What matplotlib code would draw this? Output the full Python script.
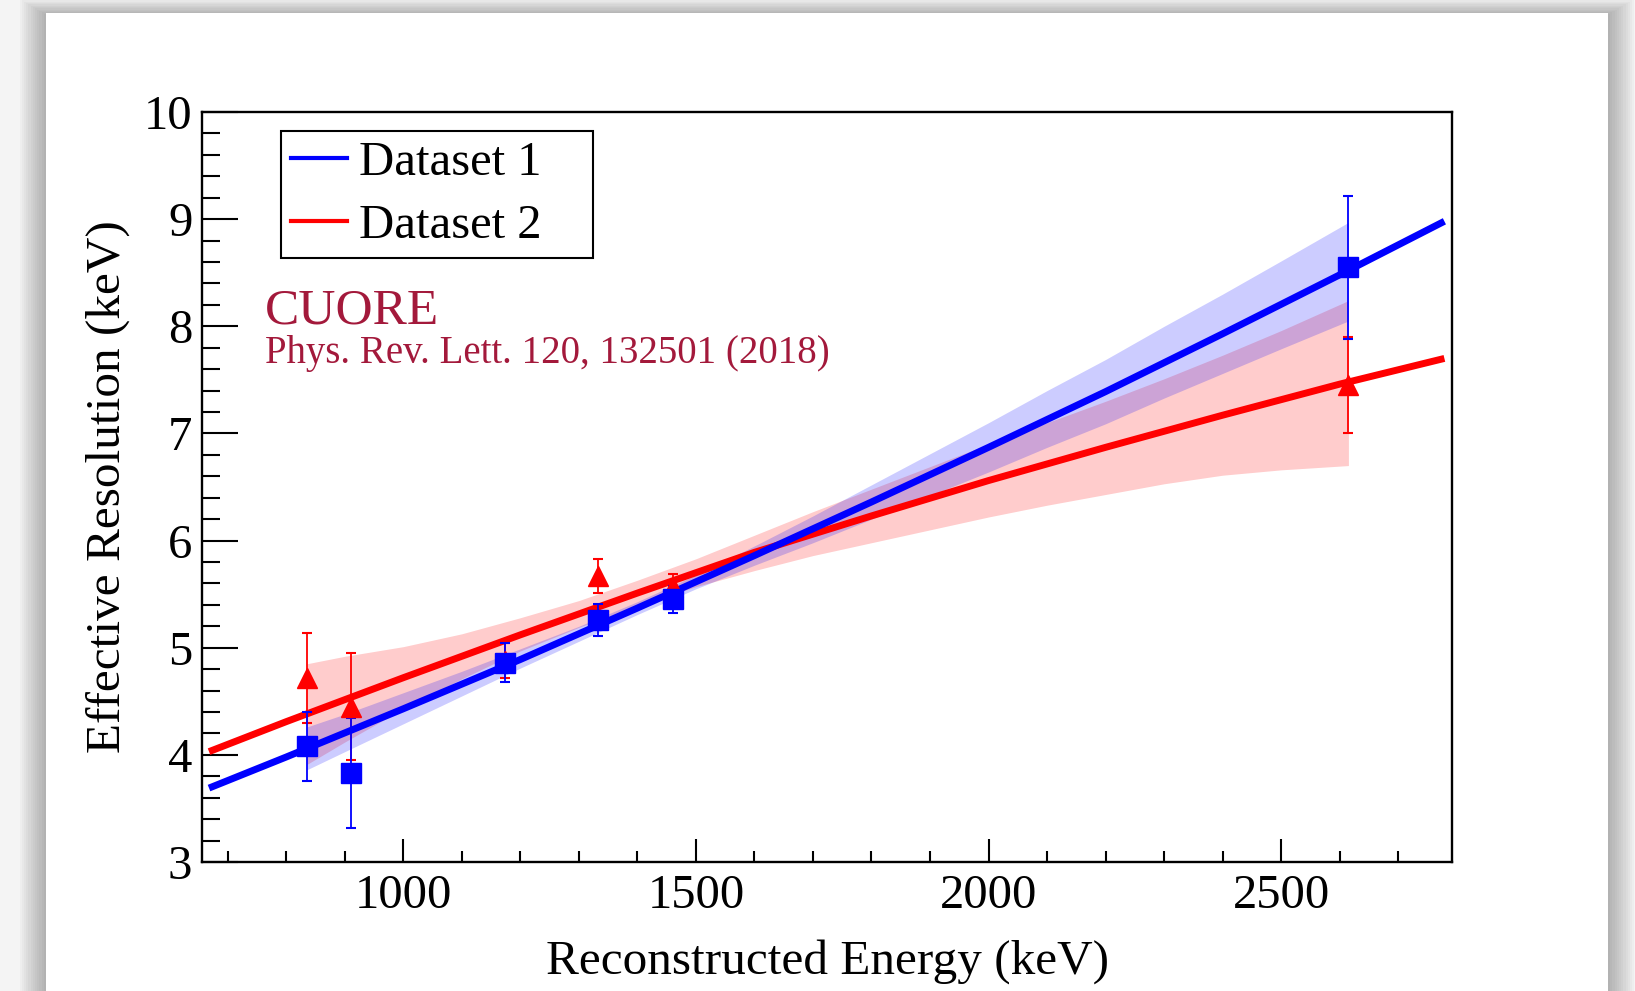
import matplotlib.pyplot as plt
from matplotlib.patches import Rectangle
from matplotlib.lines import Line2D
from matplotlib.ticker import MultipleLocator

plt.rcParams['font.family'] = ['Liberation Serif', 'DejaVu Serif']

# calibration peaks (keV)
energy = [835, 911, 1173, 1332, 1461, 2615]

# dataset 1 (blue squares)
res_ds1 = [4.08, 3.83, 4.86, 5.26, 5.45, 8.55]
err_ds1 = [0.32, 0.51, 0.18, 0.15, 0.13, 0.67]

# dataset 2 (red triangles)
res_ds2 = [4.72, 4.45, 4.88, 5.67, 5.57, 7.45]
err_ds2 = [0.42, 0.50, 0.16, 0.16, 0.12, 0.45]

# fit curves
fit_e = [668, 800, 1000, 1200, 1400, 1600, 1800, 2000, 2200, 2400, 2600, 2779]
fit_ds1 = [3.69, 3.98, 4.43, 4.89, 5.37, 5.86, 6.36, 6.87, 7.39, 7.93, 8.48, 8.98]
fit_ds2 = [4.03, 4.31, 4.72, 5.12, 5.51, 5.89, 6.23, 6.56, 6.87, 7.17, 7.46, 7.70]

# confidence bands
band_e = [835, 900, 1000, 1100, 1200, 1300, 1400, 1500, 1600, 1700,
          1800, 1900, 2000, 2100, 2200, 2300, 2400, 2500, 2615]
band_ds1_lo = [3.86, 4.03, 4.29, 4.55, 4.81, 5.06, 5.31, 5.55, 5.77, 5.98,
               6.20, 6.42, 6.64, 6.87, 7.09, 7.33, 7.56, 7.79, 8.05]
band_ds1_hi = [4.26, 4.38, 4.58, 4.78, 4.99, 5.20, 5.43, 5.68, 5.95, 6.23,
               6.52, 6.81, 7.10, 7.40, 7.69, 8.00, 8.30, 8.61, 8.97]
band_ds2_lo = [3.91, 4.12, 4.43, 4.71, 4.97, 5.19, 5.39, 5.57, 5.72, 5.86,
               5.98, 6.10, 6.22, 6.33, 6.43, 6.53, 6.61, 6.66, 6.70]
band_ds2_hi = [4.85, 4.92, 5.01, 5.13, 5.28, 5.44, 5.63, 5.83, 6.05, 6.27,
               6.48, 6.69, 6.90, 7.10, 7.30, 7.51, 7.73, 7.96, 8.24]

W, H = 1635, 991
fig = plt.figure(figsize=(W / 100, H / 100), dpi=100, facecolor='#f4f4f4')

# white card with soft shadow
card_l, card_r, card_t = 46 / W, 1608 / W, 1 - 13 / H
for i in range(12):
    d = (i + 1) * 2.2
    fig.add_artist(Rectangle((card_l - d / W, -0.1), card_r - card_l + 2 * d / W,
                             card_t + 0.1 + (0.6 * d - 2) / H,
                             transform=fig.transFigure, facecolor='black',
                             alpha=0.022, lw=0, zorder=-20))
fig.add_artist(Rectangle((card_l, -0.1), card_r - card_l, card_t + 0.1,
                         transform=fig.transFigure, facecolor='white',
                         lw=0, zorder=-10))

ax = fig.add_axes([202 / W, 129 / H, 1250 / W, 750 / H])
ax.set_facecolor('white')

# dataset 2 first, dataset 1 band goes over it
ax.fill_between(band_e, band_ds2_lo, band_ds2_hi, color='red', alpha=0.2, lw=0)
ax.plot(fit_e, fit_ds2, color='red', lw=5, solid_capstyle='butt')
ax.errorbar(energy, res_ds2, yerr=err_ds2, fmt='^', color='red', ms=15,
            elinewidth=1.3, capsize=3.6, capthick=1.5)

ax.fill_between(band_e, band_ds1_lo, band_ds1_hi, color='blue', alpha=0.2, lw=0)
ax.plot(fit_e, fit_ds1, color='blue', lw=5, solid_capstyle='butt')
ax.errorbar(energy, res_ds1, yerr=err_ds1, fmt='s', color='blue', ms=15,
            elinewidth=1.3, capsize=3.6, capthick=1.5)

ax.set_xlim(656, 2792)
ax.set_ylim(3, 10)
ax.xaxis.set_major_locator(MultipleLocator(500))
ax.xaxis.set_minor_locator(MultipleLocator(100))
ax.yaxis.set_major_locator(MultipleLocator(1))
ax.yaxis.set_minor_locator(MultipleLocator(0.2))
ax.tick_params(axis='x', which='major', direction='in', length=16.5, width=1.5,
               labelsize=35, pad=8.7, top=False)
ax.tick_params(axis='x', which='minor', direction='in', length=8, width=1.5, top=False)
ax.tick_params(axis='y', which='major', direction='in', length=26, width=1.5,
               labelsize=35, pad=7, right=False)
ax.tick_params(axis='y', which='minor', direction='in', length=13, width=1.5, right=False)
for sp in ax.spines.values():
    sp.set_linewidth(1.7)

ax.set_xlabel('Reconstructed Energy (keV)', fontsize=35.5, labelpad=15)
ax.set_ylabel('Effective Resolution (keV)', fontsize=35.5, labelpad=10)

handles = [Line2D([], [], color='blue', lw=3), Line2D([], [], color='red', lw=3)]
leg = ax.legend(handles, ['Dataset 1', 'Dataset 2'], loc='upper left',
                bbox_to_anchor=(0.0632, 0.8057, 0.2496, 0.169), mode='expand',
                borderaxespad=0, fontsize=35, fancybox=False, framealpha=1,
                edgecolor='black', borderpad=0.2, labelspacing=0.4,
                handlelength=1.15, handletextpad=0.25)
leg.get_frame().set_linewidth(1.5)

fig.text(265 / W, 1 - 324 / H, 'CUORE', color='#a3193b', fontsize=37, va='baseline')
fig.text(265 / W, 1 - 363 / H, 'Phys. Rev. Lett. 120, 132501 (2018)', color='#a3193b',
         fontsize=28, va='baseline')

plt.savefig('out.png', dpi=100, facecolor=fig.get_facecolor())
